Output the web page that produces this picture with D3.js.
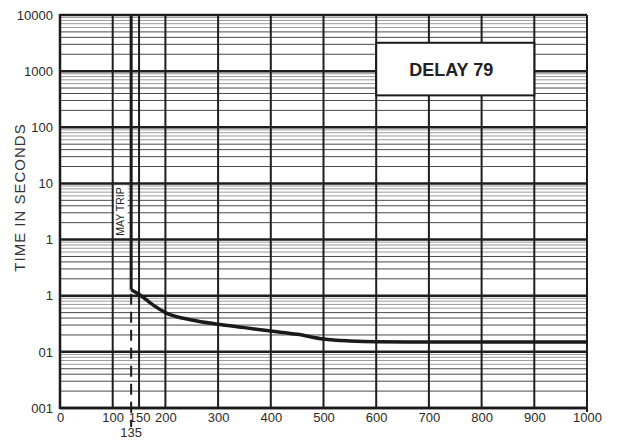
<!DOCTYPE html>
<html>
<head>
<meta charset="utf-8">
<script src="https://cdn.jsdelivr.net/npm/d3@7"></script>
<style>
  html, body { margin: 0; padding: 0; background: #fff; }
  svg { display: block; font-family: "Liberation Sans", Arial, sans-serif; }
</style>
</head>
<body>
<svg id="chart" width="618" height="443"></svg>
<script>
// ---- data ----
const xTickValues = [0, 100, 150, 200, 300, 400, 500, 600, 700, 800, 900, 1000];
const xTickLabels = ["0", "100", "150", "200", "300", "400", "500", "600", "700", "800", "900", "1000"];
const yTickValues = [10000, 1000, 100, 10, 1, 0.1, 0.01, 0.001];
const yTickLabels = ["10000", "1000", "100", "10", "1", "1", "01", "001"];
const tripCurrent = 135;
const curveCurrent = [135, 150, 175, 200, 250, 300, 350, 400, 450, 500, 550, 600, 700, 800, 900, 1000];
const curveTime   = [0.128, 0.106, 0.07, 0.05, 0.037, 0.031, 0.027, 0.0235, 0.0206, 0.0169, 0.0156, 0.0151, 0.015, 0.015, 0.015, 0.015];
const yAxisTitle = "TIME IN SECONDS";
const mayTripLabel = "MAY TRIP";
const delayLabel = "DELAY 79";

// ---- layout ----
const svg = d3.select("#chart");
const x = d3.scaleLinear().domain([0, 1000]).range([60, 587]);
const y = d3.scaleLog().domain([0.001, 10000]).range([408, 15]);
const [x0, x1] = x.range();
const [yb, yt] = y.range();

// minor horizontal grid
const minors = [];
for (let e = -3; e < 4; e++) {
  for (let m = 2; m <= 9; m++) minors.push({ v: m * Math.pow(10, e), m });
}
svg.append("g").selectAll("line").data(minors).join("line")
  .attr("x1", x0).attr("x2", x1)
  .attr("y1", d => y(d.v)).attr("y2", d => y(d.v))
  .attr("stroke", d => (d.m <= 5 ? "#4a4a4a" : "#9a9a9a"))
  .attr("stroke-width", 1);

// major decade lines
svg.append("g").selectAll("line").data(yTickValues).join("line")
  .attr("x1", x0).attr("x2", x1)
  .attr("y1", d => y(d)).attr("y2", d => y(d))
  .attr("stroke", "#1e1e1e").attr("stroke-width", 2.5);

// vertical grid lines
svg.append("g").selectAll("line").data(xTickValues.filter(v => v > 0)).join("line")
  .attr("x1", d => x(d)).attr("x2", d => x(d))
  .attr("y1", yt).attr("y2", yb)
  .attr("stroke", "#1e1e1e").attr("stroke-width", 2);

// axes frame
svg.append("line").attr("x1", x0).attr("x2", x0).attr("y1", yt - 1).attr("y2", yb + 1)
  .attr("stroke", "#1a1a1a").attr("stroke-width", 2.5);
svg.append("line").attr("x1", x0).attr("x2", x1 + 1).attr("y1", yb).attr("y2", yb)
  .attr("stroke", "#1a1a1a").attr("stroke-width", 2.5);
svg.append("line").attr("x1", x(1000)).attr("x2", x(1000)).attr("y1", yb).attr("y2", yb + 4)
  .attr("stroke", "#1a1a1a").attr("stroke-width", 2);

// axis labels via d3 axes
const yAxis = d3.axisLeft(y).tickValues(yTickValues)
  .tickFormat((d, i) => yTickLabels[i]).tickSize(0).tickPadding(6);
const gy = svg.append("g").attr("transform", `translate(${x0 - 1},0)`).call(yAxis);
gy.select(".domain").remove();
gy.selectAll("text").attr("font-size", 13).attr("fill", "#2a2a2a")
  .attr("font-family", "Liberation Sans, Arial, sans-serif");

const xAxis = d3.axisBottom(x).tickValues(xTickValues)
  .tickFormat((d, i) => xTickLabels[i]).tickSize(0).tickPadding(5);
const gx = svg.append("g").attr("transform", `translate(0,${yb})`).call(xAxis);
gx.select(".domain").remove();
gx.selectAll("text").attr("font-size", 13).attr("fill", "#2a2a2a")
  .attr("font-family", "Liberation Sans, Arial, sans-serif");

// 135 label
svg.append("text").attr("x", x(tripCurrent)).attr("y", 437)
  .attr("text-anchor", "middle").attr("font-size", 13).attr("fill", "#2a2a2a")
  .text(String(tripCurrent));

// y-axis title
svg.append("text")
  .attr("transform", `translate(25,${(yt + yb) / 2 - 14}) rotate(-90)`)
  .attr("text-anchor", "middle").attr("font-size", 15).attr("letter-spacing", 1)
  .attr("fill", "#333").text(yAxisTitle);

// MAY TRIP box
svg.append("rect")
  .attr("x", x(100) + 1.5).attr("y", y(10) + 2)
  .attr("width", x(tripCurrent) - x(100) - 5).attr("height", y(1) - y(10) - 4)
  .attr("fill", "#fff");
svg.append("text")
  .attr("transform", `translate(${(x(100) + x(tripCurrent)) / 2 + 2.5},${(y(10) + y(1)) / 2}) rotate(-90)`)
  .attr("text-anchor", "middle").attr("font-size", 10.5).attr("fill", "#222")
  .text(mayTripLabel);

// dashed trip line
svg.append("line")
  .attr("x1", x(tripCurrent)).attr("x2", x(tripCurrent))
  .attr("y1", y(curveTime[0]) + 4).attr("y2", yb + 19)
  .attr("stroke", "#1a1a1a").attr("stroke-width", 2).attr("stroke-dasharray", "11,7");

// vertical trip line (curve upper part)
svg.append("line")
  .attr("x1", x(tripCurrent)).attr("x2", x(tripCurrent))
  .attr("y1", y(10000)).attr("y2", y(curveTime[0]))
  .attr("stroke", "#1a1a1a").attr("stroke-width", 3);

// curve
const pts = curveCurrent.map((c, i) => [c, curveTime[i]]);
svg.append("path").datum(pts)
  .attr("d", d3.line().x(d => x(d[0])).y(d => y(d[1])).curve(d3.curveMonotoneX))
  .attr("fill", "none").attr("stroke", "#1a1a1a").attr("stroke-width", 3.5)
  .attr("stroke-linejoin", "round");

// DELAY 79 box
const bx0 = x(600), bx1 = x(900), by0 = y(3200), by1 = y(370);
svg.append("rect").attr("x", bx0).attr("y", by0)
  .attr("width", bx1 - bx0).attr("height", by1 - by0)
  .attr("fill", "#fff").attr("stroke", "#1a1a1a").attr("stroke-width", 2);
svg.append("text").attr("x", (bx0 + bx1) / 2 - 4).attr("y", (by0 + by1) / 2 + 6.5)
  .attr("text-anchor", "middle").attr("font-size", 18).attr("font-weight", "bold")
  .attr("fill", "#222").text(delayLabel);
</script>
</body>
</html>
